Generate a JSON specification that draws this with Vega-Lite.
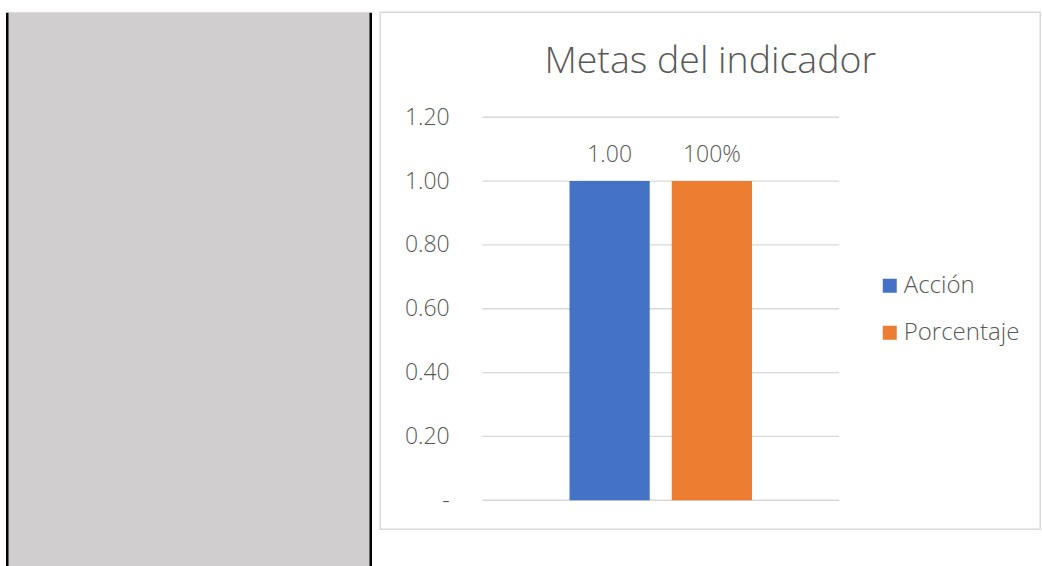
{
  "$schema": "https://vega.github.io/schema/vega-lite/v6.json",
  "padding": {"left": 6.75, "top": 11.25, "right": 0, "bottom": 0},
  "background": "white",
  "bounds": "flush",
  "spacing": 9.5,
  "config": {"font": "Open Sans"},
  "datasets": {
    "barras": [
      {"cat": "Metas", "serie": "Acción", "valor": 1.0, "etiqueta": "1.00"},
      {"cat": "Metas", "serie": "Porcentaje", "valor": 1.0, "etiqueta": "100%"}
    ],
    "rejilla": [{"valor": 0}, {"valor": 0.2}, {"valor": 0.4}, {"valor": 0.6}, {"valor": 0.8}, {"valor": 1.0}, {"valor": 1.2}]
  },
  "hconcat": [
    {
      "width": 363.5,
      "height": 554,
      "data": {"values": [{"v": 0}]},
      "view": {"fill": "#D0CECF", "stroke": null},
      "layer": [
        {
          "mark": {"type": "point", "opacity": 0},
          "encoding": {
            "x": {"field": "v", "type": "quantitative", "axis": null},
            "y": {"field": "v", "type": "quantitative",
              "axis": {"orient": "left", "labels": false, "ticks": false, "grid": false, "title": null, "domainColor": "black", "domainWidth": 2.5, "minExtent": 0, "maxExtent": 0}}
          }
        },
        {
          "mark": {"type": "point", "opacity": 0},
          "encoding": {
            "x": {"field": "v", "type": "quantitative", "axis": null},
            "y": {"field": "v", "type": "quantitative",
              "axis": {"orient": "right", "labels": false, "ticks": false, "grid": false, "title": null, "domainColor": "black", "domainWidth": 2.5, "minExtent": 0, "maxExtent": 0}}
          }
        }
      ],
      "resolve": {"axis": {"y": "independent"}}
    },
    {
      "width": 660,
      "height": 517,
      "view": {"stroke": "#D9D9D9", "strokeWidth": 1.5, "fill": "white"},
      "title": {"text": "Metas del indicador", "anchor": "middle", "frame": "group", "font": "Open Sans", "fontSize": 37.5, "fontWeight": 300, "color": "#595959", "baseline": "alphabetic", "offset": 0, "dy": 98},
      "layer": [
        {
          "data": {"name": "rejilla"},
          "mark": {"type": "tick", "orient": "horizontal", "size": 357, "thickness": 1.3, "color": "#D9D9D9", "opacity": 1},
          "encoding": {
            "x": {"datum": "Metas", "type": "nominal", "axis": null},
            "y": {"field": "valor", "type": "quantitative",
              "scale": {"domain": [-0.0909, 1.529], "nice": false, "zero": false},
              "axis": {"values": [0, 0.2, 0.4, 0.6, 0.8, 1.0, 1.2], "labelExpr": "datum.value == 0 ? '-\u00a0\u00a0' : format(datum.value, '.2f')", "offset": -69, "domain": false, "ticks": false, "tickSize": 0, "grid": false, "labelPadding": 0, "title": null, "labelFont": "Open Sans", "labelFontSize": 23, "labelFontWeight": 300, "labelColor": "#595959"}}
          }
        },
        {
          "data": {"name": "barras"},
          "mark": {"type": "bar"},
          "encoding": {
            "x": {"field": "cat", "type": "nominal", "axis": null,
              "scale": {"paddingInner": 0, "paddingOuter": 0.4244, "align": 0.3366}},
            "xOffset": {"field": "serie", "type": "nominal", "scale": {"paddingInner": 0.2157, "paddingOuter": 0.853}},
            "y": {"field": "valor", "type": "quantitative"},
            "color": {"field": "serie", "type": "nominal",
              "scale": {"domain": ["Acción", "Porcentaje"], "range": ["#4472C4", "#ED7D31"]},
              "legend": {"orient": "none", "legendX": 871, "legendY": 261.5, "title": null, "symbolType": "square", "symbolSize": 196, "symbolStrokeWidth": 0, "labelFont": "Open Sans", "labelFontSize": 24, "labelFontWeight": 300, "labelColor": "#595959", "rowPadding": 23, "labelOffset": 2, "padding": 0, "direction": "vertical"}}
          }
        },
        {
          "data": {"name": "barras"},
          "mark": {"type": "text", "baseline": "alphabetic", "dy": -19, "font": "Open Sans", "fontSize": 23, "fontWeight": 300, "color": "#595959"},
          "encoding": {
            "x": {"field": "cat", "type": "nominal", "axis": null},
            "xOffset": {"field": "serie", "type": "nominal"},
            "y": {"field": "valor", "type": "quantitative"},
            "text": {"field": "etiqueta"}
          }
        }
      ]
    }
  ]
}
